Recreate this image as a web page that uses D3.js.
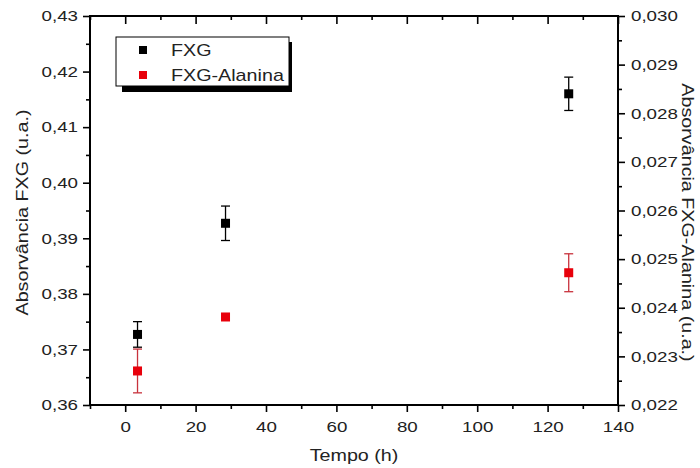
<!DOCTYPE html>
<html>
<head>
<meta charset="utf-8">
<script src="https://cdn.jsdelivr.net/npm/d3@7"></script>
<style>
  html, body { margin: 0; padding: 0; background: #fff; }
  text { font-family: "Liberation Sans", Arial, sans-serif; fill: #222; }
</style>
</head>
<body>
<svg id="chart" width="700" height="468"></svg>
<script>
// ---- data ----
const tempo = [3.5, 28.5, 126];
const fxg = [0.3727, 0.3927, 0.4160];
const fxgErr = [0.0023, 0.0031, 0.0030];
const fxgAla = [0.02270, 0.02381, 0.02472];
const fxgAlaErr = [0.00045, 0.00002, 0.00039];
const xTicks = [0, 20, 40, 60, 80, 100, 120, 140];
const xMinor = [-10, 10, 30, 50, 70, 90, 110, 130];
const yLTicks = [0.36, 0.37, 0.38, 0.39, 0.40, 0.41, 0.42, 0.43];
const yLMinor = [0.365, 0.375, 0.385, 0.395, 0.405, 0.415, 0.425];
const yRTicks = [0.022, 0.023, 0.024, 0.025, 0.026, 0.027, 0.028, 0.029, 0.030];
const yRMinor = [0.0225, 0.0235, 0.0245, 0.0255, 0.0265, 0.0275, 0.0285, 0.0295];
const seriesNames = ["FXG", "FXG-Alanina"];
const seriesColors = ["#000000", "#e8000b"];
const errColors = ["#000000", "#c8323c"];

const svg = d3.select("#chart");
const L = 90, R = 618, T = 16, B = 405;
const x = d3.scaleLinear().domain([-10, 140]).range([L, R]);
const yL = d3.scaleLinear().domain([0.36, 0.43]).range([B, T]);
const yR = d3.scaleLinear().domain([0.022, 0.030]).range([B, T]);
const loc = d3.formatLocale({decimal: ",", thousands: ".", grouping: [3], currency: ["", ""]});
const fL = loc.format(".2f"), fR = loc.format(".3f");
const SX_TICK = 1.25, SX_TITLE = 1.16, SX_LEG = 1.16;

function styleAxis(g) {
  g.selectAll(".domain").remove();
  g.selectAll(".tick line").attr("stroke", "#000").attr("stroke-width", 1.6);
  g.selectAll(".tick text").style("font-size", "15px").attr("fill", "#222")
    .style("font-family", "'Liberation Sans', Arial, sans-serif")
    .each(function() {
      const t = d3.select(this);
      const xv = +t.attr("x") || 0;
      t.attr("x", xv / SX_TICK).attr("transform", `scale(${SX_TICK},1)`);
    });
}

// minor ticks
svg.append("g").attr("transform", `translate(0,${B})`)
  .call(d3.axisBottom(x).tickValues(xMinor).tickSize(4).tickFormat("")).call(styleAxis);
svg.append("g").attr("transform", `translate(0,${T})`)
  .call(d3.axisBottom(x).tickValues(xMinor).tickSize(4).tickFormat("")).call(styleAxis);
svg.append("g").attr("transform", `translate(${L},0)`)
  .call(d3.axisLeft(yL).tickValues(yLMinor).tickSize(4).tickFormat("")).call(styleAxis);
svg.append("g").attr("transform", `translate(${R},0)`)
  .call(d3.axisRight(yR).tickValues(yRMinor).tickSize(4).tickFormat("")).call(styleAxis);

// major ticks
svg.append("g").attr("transform", `translate(0,${B})`)
  .call(d3.axisBottom(x).tickValues(xTicks).tickSize(7).tickPadding(9).tickFormat(d3.format("d"))).call(styleAxis);
svg.append("g").attr("transform", `translate(0,${T})`)
  .call(d3.axisBottom(x).tickValues(xTicks).tickSize(8).tickFormat("")).call(styleAxis);
svg.append("g").attr("transform", `translate(${L},0)`)
  .call(d3.axisLeft(yL).tickValues(yLTicks).tickSize(7).tickPadding(5).tickFormat(fL)).call(styleAxis);
svg.append("g").attr("transform", `translate(${R},0)`)
  .call(d3.axisRight(yR).tickValues(yRTicks).tickSize(7).tickPadding(6).tickFormat(fR)).call(styleAxis);

// frame
svg.append("path")
  .attr("d", `M${L},${T}H${R}V${B}H${L}Z`)
  .attr("fill", "none").attr("stroke", "#000").attr("stroke-width", 2);

// axis titles
svg.append("text").attr("transform", `translate(${(L + R) / 2},461) scale(${SX_TITLE},1)`)
  .attr("text-anchor", "middle").style("font-size", "17px").text("Tempo (h)");
svg.append("text").attr("transform", `translate(28,${(T + B) / 2 + 2}) rotate(-90) scale(${SX_TITLE},1)`)
  .attr("text-anchor", "middle").style("font-size", "17px").text("Absorvância FXG (u.a.)");
svg.append("text").attr("transform", `translate(682,${(T + B) / 2 + 12}) rotate(90) scale(${SX_TITLE},1)`)
  .attr("text-anchor", "middle").style("font-size", "17px").text("Absorvância FXG-Alanina (u.a.)");

// error bars + points
function drawSeries(vals, errs, yS, ci) {
  const g = svg.append("g");
  const cap = 4.5;
  tempo.forEach((t, i) => {
    const cx = x(t), y0 = yS(vals[i] - errs[i]), y1 = yS(vals[i] + errs[i]);
    g.append("line").attr("x1", cx).attr("x2", cx).attr("y1", y0).attr("y2", y1)
      .attr("stroke", errColors[ci]).attr("stroke-width", 1.3);
    [y0, y1].forEach(yy => g.append("line").attr("x1", cx - cap).attr("x2", cx + cap)
      .attr("y1", yy).attr("y2", yy).attr("stroke", errColors[ci]).attr("stroke-width", 1.3));
  });
  g.selectAll("rect").data(tempo).join("rect")
    .attr("x", d => x(d) - 4.5).attr("y", (d, i) => yS(vals[i]) - 4.5)
    .attr("width", 9).attr("height", 9).attr("fill", seriesColors[ci]);
}
drawSeries(fxg, fxgErr, yL, 0);
drawSeries(fxgAla, fxgAlaErr, yR, 1);

// legend
const lg = svg.append("g");
lg.append("rect").attr("x", 122).attr("y", 42).attr("width", 170).attr("height", 50).attr("fill", "#000");
lg.append("rect").attr("x", 116).attr("y", 37).attr("width", 173).attr("height", 49)
  .attr("fill", "#fff").attr("stroke", "#000").attr("stroke-width", 1);
seriesNames.forEach((n, i) => {
  const yy = 50 + i * 25;
  lg.append("rect").attr("x", 139).attr("y", yy - 4).attr("width", 8).attr("height", 8).attr("fill", seriesColors[i]);
  lg.append("text").attr("transform", `translate(171,${yy + 6}) scale(${SX_LEG},1)`)
    .style("font-size", "17px").text(n);
});
</script>
</body>
</html>
